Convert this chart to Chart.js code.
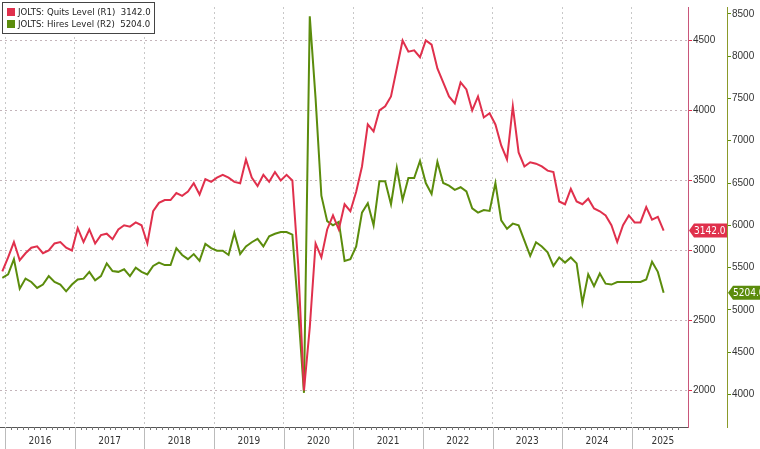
<!DOCTYPE html>
<html>
<head>
<meta charset="utf-8">
<script src="https://cdn.jsdelivr.net/npm/chart.js@4"></script>
<style>
  html, body { margin: 0; padding: 0; background: #fff; }
  #wrap { width: 760px; height: 449px; }
</style>
</head>
<body>
<div id="wrap"><canvas id="c" width="760" height="449"></canvas></div>
<script>
// months from Dec 2015 to Jun 2025
const years = ['2016', '2017', '2018', '2019', '2020', '2021', '2022', '2023', '2024', '2025'];
const quitTicks = [2000, 2500, 3000, 3500, 4000, 4500];
const hireTicks = [4000, 4500, 5000, 5500, 6000, 6500, 7000, 7500, 8000, 8500];

const quits = [2850,
  2950,3060,2930,2980,3020,3030,2980,3000,3050,3060,3020,3000,
  3160,3060,3150,3050,3110,3120,3080,3150,3180,3170,3200,3180,
  3050,3280,3340,3360,3360,3410,3390,3420,3480,3400,3510,3490,
  3520,3540,3520,3490,3480,3650,3520,3460,3540,3490,3560,3500,
  3540,3500,2900,2000,2450,3050,2950,3150,3250,3150,3330,3280,
  3420,3600,3900,3850,4000,4030,4100,4300,4500,4420,4430,4380,
  4500,4470,4300,4200,4100,4050,4200,4150,4000,4100,3950,3980,
  3900,3750,3650,4030,3700,3600,3630,3620,3600,3570,3560,3350,
  3330,3440,3350,3330,3370,3300,3280,3250,3180,3060,3180,3250,
  3200,3200,3310,3220,3240,3142];

const hires = [5380,
  5420,5600,5250,5370,5330,5260,5300,5400,5330,5300,5220,5300,
  5360,5370,5450,5350,5400,5550,5460,5450,5480,5400,5500,5450,
  5420,5520,5560,5530,5530,5730,5650,5600,5660,5580,5780,5730,
  5700,5700,5650,5910,5660,5750,5800,5840,5750,5870,5900,5920,
  5920,5890,5000,4020,8470,7500,6350,6050,6000,6040,5580,5600,
  5750,6150,6260,6000,6520,6520,6250,6680,6300,6560,6560,6760,
  6500,6370,6750,6500,6470,6420,6450,6400,6200,6150,6180,6170,
  6500,6060,5960,6020,6000,5820,5640,5800,5750,5680,5520,5620,
  5560,5620,5550,5080,5420,5280,5430,5310,5300,5330,5330,5330,
  5330,5330,5360,5570,5450,5204];

const RED = '#e0304c';
const GREEN = '#5b8c0c';

const overlay = {
  id: 'overlay',
  afterDraw(chart) {
    const ctx = chart.ctx;
    const x = chart.scales.x, a = chart.chartArea;
    ctx.save();
    // bottom axis
    ctx.strokeStyle = '#555';
    ctx.lineWidth = 1;
    ctx.beginPath();
    ctx.moveTo(a.left, a.bottom + 0.5); ctx.lineTo(a.right, a.bottom + 0.5);
    ctx.stroke();
    for (let m = 1; m < 118; m++) {
      const px = Math.round(x.getPixelForValue(m - 0.5)) + 0.5;
      const isYear = (m - 1) % 12 === 0;
      ctx.strokeStyle = isYear ? '#bbb' : '#777';
      ctx.beginPath();
      ctx.moveTo(px, a.bottom); ctx.lineTo(px, a.bottom + (isYear ? 22 : 3));
      ctx.stroke();
    }
    ctx.fillStyle = '#333';
    ctx.font = '10px "Liberation Sans Narrow", "DejaVu Sans Condensed", sans-serif';
    ctx.textAlign = 'center';
    ctx.textBaseline = 'middle';
    years.forEach((y, i) => {
      let l = x.getPixelForValue(i * 12 + 0.5), r = x.getPixelForValue(i * 12 + 12.5);
      if (r > a.right) r = a.right + 6;
      ctx.fillText(y, (l + r) / 2, a.bottom + 14);
    });
    // value tags
    const tag = (txt, scale, v, color, x0, w) => {
      const py = scale.getPixelForValue(v);
      ctx.fillStyle = color;
      ctx.beginPath();
      ctx.moveTo(x0, py); ctx.lineTo(x0 + 5, py - 7); ctx.lineTo(x0 + w, py - 7);
      ctx.lineTo(x0 + w, py + 7); ctx.lineTo(x0 + 5, py + 7); ctx.closePath();
      ctx.fill();
      ctx.fillStyle = '#fff';
      ctx.textAlign = 'left';
      ctx.font = '10px "DejaVu Sans Condensed", sans-serif';
      ctx.fillText(txt, x0 + 5, py + 0.5);
    };
    tag('3142.0', chart.scales.yq, 3142, RED, 689, 38);
    tag('5204.0', chart.scales.yh, 5204, GREEN, 728, 32);
    // legend
    ctx.fillStyle = '#fff';
    ctx.fillRect(2, 2, 152, 31);
    ctx.strokeStyle = '#444';
    ctx.strokeRect(2.5, 2.5, 152, 31);
    ctx.fillStyle = RED; ctx.fillRect(7, 8, 8, 8);
    ctx.fillStyle = GREEN; ctx.fillRect(7, 20, 8, 8);
    ctx.fillStyle = '#222';
    ctx.font = '9.5px "DejaVu Sans Condensed", sans-serif';
    ctx.fillText('JOLTS: Quits Level (R1)  3142.0', 18, 12.5);
    ctx.fillText('JOLTS: Hires Level (R2)  5204.0', 18, 24.5);
    ctx.restore();
  }
};

new Chart(document.getElementById('c'), {
  type: 'line',
  data: {
    datasets: [
      { data: quits.map((v, i) => ({ x: i, y: v })), yAxisID: 'yq', borderColor: RED, borderWidth: 2, pointRadius: 0, tension: 0 },
      { data: hires.map((v, i) => ({ x: i, y: v })), yAxisID: 'yh', borderColor: GREEN, borderWidth: 2, pointRadius: 0, tension: 0 }
    ]
  },
  options: {
    responsive: false,
    animation: false,
    layout: { padding: { left: 0, top: 0, bottom: 22, right: 0 } },
    plugins: { legend: { display: false }, tooltip: { enabled: false } },
    scales: {
      x: {
        type: 'linear', min: -0.4, max: 118.2, display: true,
        afterBuildTicks: s => { s.ticks = years.map((y, i) => ({ value: i * 12 + 0.5 })); },
        ticks: { display: false },
        border: { display: false, dash: [2, 3] },
        grid: { color: '#c8c8c8', lineWidth: 1, drawTicks: false },
        afterFit: s => { s.height = 0; }
      },
      yq: {
        position: 'right', min: 1739, max: 4739,
        afterBuildTicks: s => { s.ticks = quitTicks.map(v => ({ value: v })); },
        border: { color: '#c9567a', width: 1, dash: [2, 3] },
        grid: { color: '#c4b4ba', tickColor: RED, tickLength: 4 },
        ticks: { color: '#333', font: { size: 10 }, padding: 1, callback: v => String(v) },
        afterFit: s => { s.width = 39; }
      },
      yh: {
        position: 'right', min: 3616, max: 8581,
        afterBuildTicks: s => { s.ticks = hireTicks.map(v => ({ value: v })); },
        border: { color: '#8a9a2a', width: 1 },
        grid: { drawOnChartArea: false, tickColor: GREEN, tickLength: 4 },
        ticks: { color: '#333', font: { size: 10 }, padding: 1, callback: v => String(v) },
        afterFit: s => { s.width = 33; }
      }
    }
  },
  plugins: [overlay]
});
</script>
</body>
</html>
